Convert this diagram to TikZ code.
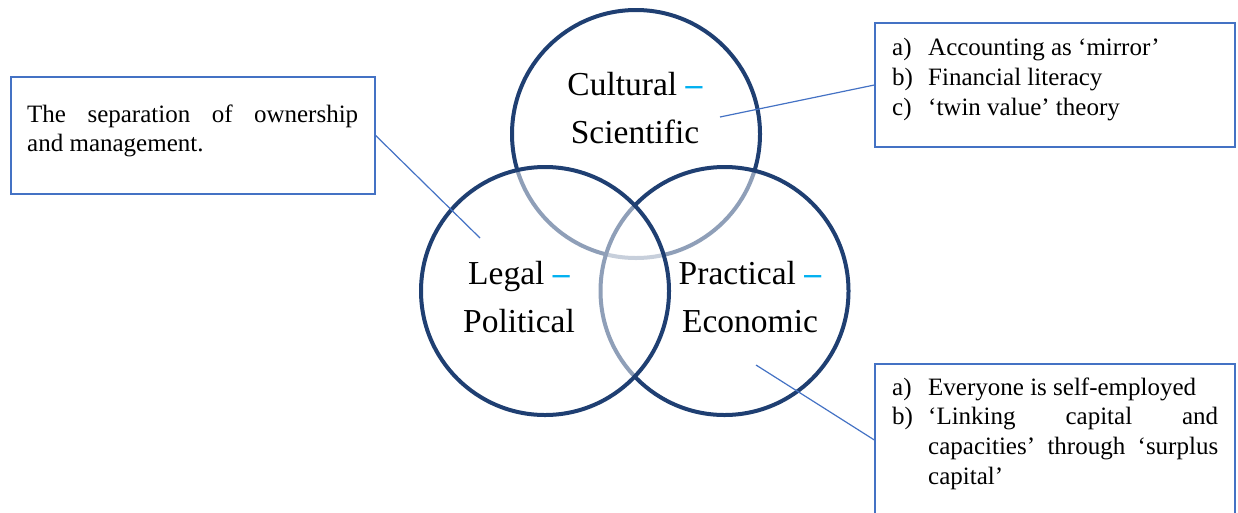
\documentclass[tikz,border=0pt]{standalone}
\usepackage{fontspec}
\setmainfont{Liberation Serif}
\definecolor{ringblue}{HTML}{1F3F72}
\definecolor{boxblue}{HTML}{4472C4}
\definecolor{dashblue}{HTML}{00B0F0}
\newcommand{\bluedash}{\textcolor{dashblue}{\textbf{–}}}
\tikzset{
  ring/.style={circle, minimum size=248pt, inner sep=0pt, draw=ringblue,
    line width=4pt, fill=white, fill opacity=0.5, draw opacity=1},
  ringlabel/.style={align=center, inner sep=0pt,
    font=\fontsize{33.5}{48}\selectfont},
  notebox/.style={draw=boxblue, line width=1.3pt, rectangle, inner sep=0pt},
  notetext/.style={inner sep=0pt, anchor=base west,
    font=\fontsize{25}{29.7}\selectfont},
  conn/.style={draw=boxblue, line width=1.2pt},
}
\begin{document}
\begin{tikzpicture}[x=1pt, y=-1pt]
\useasboundingbox (0,0) rectangle (1238,512);

% the three overlapping circles; later fills fade earlier outlines
\node[ring] (cs) at (636,134) {};
\node[ring] (pe) at (724.5,291) {};
\node[ring] (lp) at (545,291) {};

% circle captions (base anchor sits on the last line)
\node[ringlabel, anchor=base] (cslbl) at (635,143) {Cultural \bluedash\\Scientific};
\node[ringlabel, anchor=base] (lplbl) at (519,332) {Legal \bluedash\\Political};
\node[ringlabel, anchor=base] (pelbl) at (750,332) {Practical \bluedash\\Economic};

% note boxes (the lower one runs past the bottom edge)
\node[notebox, minimum width=364pt, minimum height=117pt] (boxL) at (193,135.5) {};
\node[notebox, minimum width=360pt, minimum height=124pt] (boxT) at (1055,85) {};
\node[notebox, minimum width=360pt, minimum height=152pt] (boxB) at (1055,440) {};

% note texts
\node[notetext, font=\fontsize{25}{29}\selectfont] (txtL) at (27,122) {\parbox[t]{331pt}{\tolerance=10000
  The separation of ownership\linebreak and management.}};
\node[notetext] (txtT) at (892,55.7) {\parbox[t]{326pt}{\tolerance=10000
  \hangindent=36pt\hangafter=1\makebox[36pt][l]{a)}Accounting as ‘mirror’\par
  \hangindent=36pt\hangafter=1\makebox[36pt][l]{b)}Financial literacy\par
  \hangindent=36pt\hangafter=1\makebox[36pt][l]{c)}‘twin value’ theory}};
\node[notetext] (txtB) at (892,395) {\parbox[t]{326pt}{\tolerance=10000
  \hangindent=36pt\hangafter=1\makebox[36pt][l]{a)}Everyone is self-employed\par
  \hangindent=36pt\hangafter=1\makebox[36pt][l]{b)}‘Linking capital and\linebreak capacities’ through ‘surplus capital’}};

% leader lines from the notes into the circles
\coordinate (pL) at (480,238);
\coordinate (pT) at (720,117);
\coordinate (pB) at (756,365);
\draw[conn] (boxL.east) -- (pL);
\draw[conn] (boxT.west) -- (pT);
\draw[conn] (boxB.west) -- (pB);
\end{tikzpicture}
\end{document}
